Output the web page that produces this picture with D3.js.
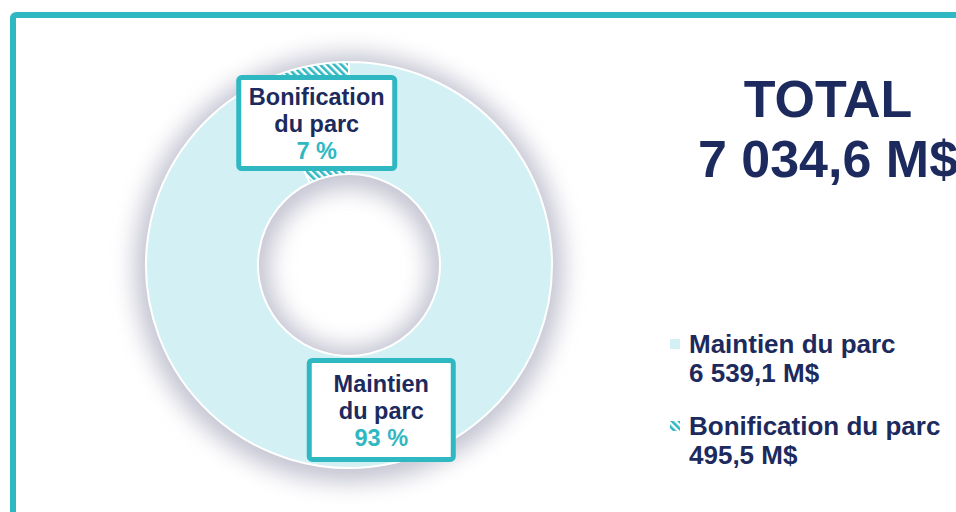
<!DOCTYPE html>
<html>
<head>
<meta charset="utf-8">
<script src="https://cdn.jsdelivr.net/npm/d3@7"></script>
<style>
  body { margin: 0; background: #fff; }
  text { font-family: "Liberation Sans", Arial, sans-serif; font-weight: bold; }
</style>
</head>
<body>
<div id="chart"></div>
<script>
// data
const categories = ["Maintien du parc", "Bonification du parc"];
const values = [6539.1, 495.5];
const sliceLabels = [["Maintien", "du parc"], ["Bonification", "du parc"]];
const totalTitle = "TOTAL";
const unit = " M$";

const navy = "#1c2a5e";
const teal = "#2fb8c2";
const w = 956;
const h = 512;

const fr = d3.formatLocale({ decimal: ",", thousands: "\u00a0", grouping: [3], currency: ["", ""] });
const fmt = fr.format(",.1f");
const total = d3.sum(values);

const svg = d3
  .select("#chart")
  .append("svg")
  .attr("width", w)
  .attr("height", h);

const defs = svg.append("defs");

// hatch used by the 2nd slice
const hatch = defs
  .append("pattern")
  .attr("id", "hatch")
  .attr("patternUnits", "userSpaceOnUse")
  .attr("width", 5)
  .attr("height", 5)
  .attr("patternTransform", "rotate(-45)");
hatch.append("rect").attr("width", 5).attr("height", 5).attr("fill", "#fff");
hatch.append("rect").attr("width", 2.6).attr("height", 5).attr("fill", teal);

defs
  .append("filter")
  .attr("id", "blur")
  .attr("x", "-30%")
  .attr("y", "-30%")
  .attr("width", "160%")
  .attr("height", "160%")
  .append("feGaussianBlur")
  .attr("stdDeviation", 11);

// frame
svg
  .append("rect")
  .attr("x", 13)
  .attr("y", 15)
  .attr("width", 1200)
  .attr("height", 1000)
  .attr("rx", 3)
  .attr("fill", "#fff")
  .attr("stroke", teal)
  .attr("stroke-width", 6);

const colors = d3.scaleOrdinal().domain(categories).range(["#d3f0f5", "url(#hatch)"]);

const rIn = 91;
const rOut = 203;
const pie = d3.pie().sort(null).value((d) => d.value);
const arc = d3.arc().innerRadius(rIn).outerRadius(rOut);

const rows = categories.map((c, i) => ({ name: c, value: values[i], label: sliceLabels[i] }));
const arcs = pie(rows);

const donut = svg.append("g").attr("transform", "translate(349, 265)");

// soft halo behind the ring
donut
  .append("path")
  .attr("transform", "translate(0, 3)")
  .attr("d", d3.arc().innerRadius(rIn - 12).outerRadius(rOut + 12)({ startAngle: 0, endAngle: 2 * Math.PI }))
  .attr("fill", "#c6c6d4")
  .attr("filter", "url(#blur)");

donut
  .append("g")
  .selectAll("path")
  .data(arcs)
  .join("path")
  .attr("d", arc)
  .attr("fill", (d) => colors(d.data.name))
  .attr("stroke", "#fff")
  .attr("stroke-width", 2);

// label boxes on the centroids
const boxSize = [[149, 104], [161, 96]];
const lineH = 27;

const labels = donut
  .selectAll("g.lbl")
  .data(arcs)
  .join("g")
  .attr("class", "lbl")
  .attr("transform", (d) => {
    const [x, y] = arc.centroid(d);
    return `translate(${x}, ${y + 1.5})`;
  });

labels
  .append("rect")
  .attr("x", (d, i) => -(boxSize[i][0] - 5) / 2)
  .attr("y", (d, i) => -(boxSize[i][1] - 5) / 2)
  .attr("width", (d, i) => boxSize[i][0] - 5)
  .attr("height", (d, i) => boxSize[i][1] - 5)
  .attr("rx", 3)
  .attr("fill", "#fff")
  .attr("stroke", teal)
  .attr("stroke-width", 5);

labels
  .append("text")
  .attr("text-anchor", "middle")
  .style("font-size", "23.5px")
  .each(function (d) {
    const t = d3.select(this);
    const pct = Math.round((d.data.value / total) * 100) + " %";
    const lines = d.data.label.concat([pct]);
    lines.forEach((s, j) => {
      t.append("tspan")
        .attr("x", 0)
        .attr("y", 9 + (j - 1) * lineH)
        .attr("fill", j === 2 ? teal : navy)
        .text(s);
    });
  });

// total
const head = svg
  .append("text")
  .attr("text-anchor", "middle")
  .attr("fill", navy)
  .style("font-size", "52px");
head.append("tspan").attr("x", 828).attr("y", 117).text(totalTitle);
head.append("tspan").attr("x", 828).attr("y", 177).text(fmt(total) + unit);

// legend
const legend = svg
  .append("g")
  .selectAll("g")
  .data(rows)
  .join("g")
  .attr("transform", (d, i) => `translate(670, ${339 + i * 82})`);

legend
  .append("rect")
  .attr("width", 10)
  .attr("height", 10)
  .attr("fill", (d) => colors(d.name));

legend
  .append("text")
  .attr("fill", navy)
  .style("font-size", "26px")
  .each(function (d) {
    const t = d3.select(this);
    t.append("tspan").attr("x", 19).attr("y", 14).text(d.name);
    t.append("tspan").attr("x", 19).attr("y", 43).text(fmt(d.value) + unit);
  });
</script>
</body>
</html>
